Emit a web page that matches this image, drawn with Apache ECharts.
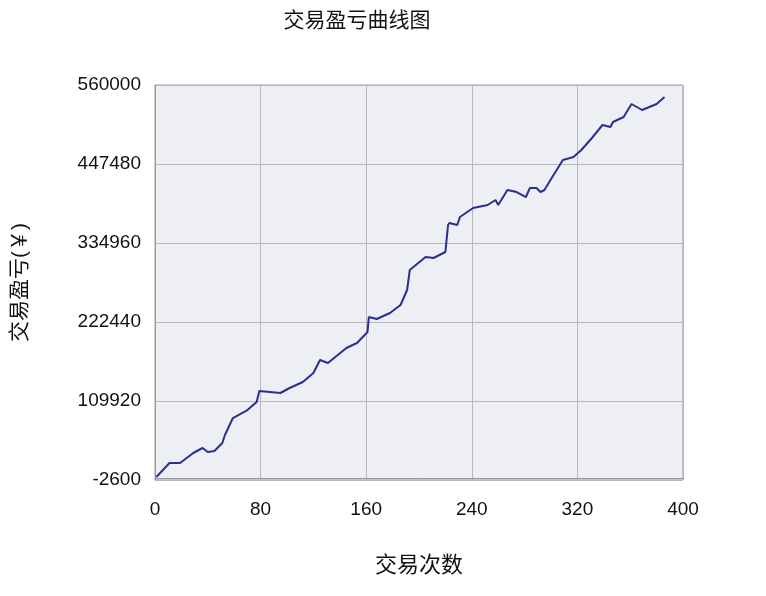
<!DOCTYPE html>
<html>
<head>
<meta charset="utf-8">
<script src="https://cdn.jsdelivr.net/npm/echarts@6/dist/echarts.min.js"></script>
<style>html,body{margin:0;padding:0;background:#fff}#chart{width:766px;height:596px}</style>
</head>
<body>
<div id="chart"></div>
<script>
  // Trade count and cumulative profit
  const trades = [1, 6, 11, 19, 29, 36, 40, 45, 51, 53, 59, 70, 77, 79, 87, 95, 102, 112, 120, 125, 131, 145, 153, 161, 162, 168, 178, 186, 191, 193, 205, 211, 220, 222, 223, 229, 231, 241, 252, 258, 260, 267, 274, 281, 284, 289, 292, 295, 301, 309, 317, 323, 331, 339, 345, 347, 355, 361, 369, 380, 386];
  const profit = [1670, 11640, 21610, 21610, 35860, 42980, 37280, 38700, 50100, 61490, 85700, 97100, 108500, 124160, 122740, 121310, 128440, 136980, 149800, 168320, 164050, 185410, 192530, 208200, 229560, 226710, 235260, 246650, 268020, 296500, 315020, 313590, 322140, 360590, 363440, 360590, 371980, 384800, 389080, 396200, 389080, 410440, 407590, 400470, 413290, 413290, 407590, 410440, 428960, 453180, 457450, 467420, 484510, 503030, 500180, 507300, 514420, 532940, 524390, 532940, 542910];
  const font = 'Arial, "Liberation Sans", "Noto Sans CJK SC", sans-serif';

  const chart = echarts.init(document.getElementById('chart'));
  chart.setOption({
    animation: false,
    title: {
      text: '交易盈亏曲线图',
      left: 352, top: 6, textAlign: 'center',
      textStyle: { fontFamily: font, fontSize: 21, fontWeight: 'normal', color: '#111' }
    },
    grid: { left: 155, right: 83, top: 85, bottom: 116, backgroundColor: '#eeeff5', show: true, borderColor: '#999', borderWidth: 1 },
    xAxis: {
      type: 'value', min: 0, max: 400, interval: 80,
      name: '交易次数', nameLocation: 'middle', nameGap: 75,
      nameTextStyle: { fontFamily: font, fontSize: 22, color: '#111' },
      axisLine: { show: true, lineStyle: { color: '#999' } },
      axisTick: { show: false },
      axisLabel: { fontFamily: font, fontSize: 19, color: '#111', margin: 20 },
      splitLine: { lineStyle: { color: '#b8b8b8' } }
    },
    yAxis: {
      type: 'value', min: -2600, max: 560000, interval: 112520,
      name: '交易盈亏(￥)', nameLocation: 'middle', nameGap: 124,
      nameTextStyle: { fontFamily: font, fontSize: 21, color: '#111' },
      axisLine: { show: true, lineStyle: { color: '#999' } },
      axisTick: { show: false },
      axisLabel: { fontFamily: font, fontSize: 19, color: '#111', margin: 14, formatter: v => String(v) },
      splitLine: { lineStyle: { color: '#b8b8b8' } }
    },
    series: [{
      type: 'line',
      data: trades.map((t, i) => [t, profit[i]]),
      showSymbol: false,
      lineStyle: { color: '#2b2f8f', width: 2 }
    }]
  });
  window.addEventListener('resize', function() { chart.resize(); });
</script>
</body>
</html>
